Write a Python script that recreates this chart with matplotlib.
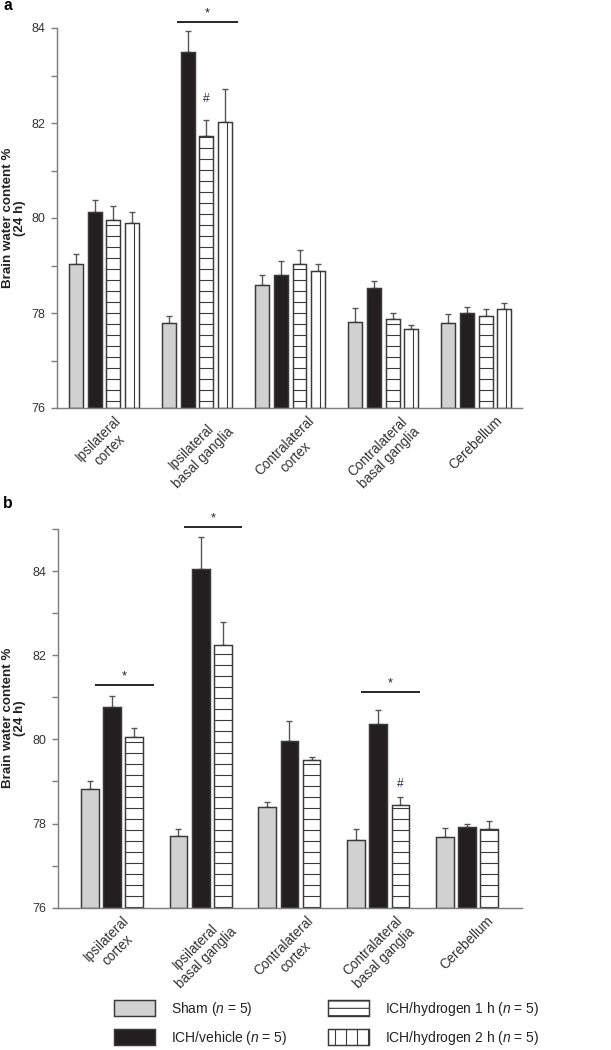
import matplotlib
matplotlib.use('Agg')
import matplotlib.pyplot as plt
import numpy as np
from matplotlib.patches import Patch
from matplotlib.ticker import MultipleLocator

plt.rcParams['font.family'] = ['Liberation Sans', 'DejaVu Sans']
plt.rcParams['mathtext.fontset'] = 'custom'
plt.rcParams['mathtext.it'] = 'Liberation Sans:italic'
plt.rcParams['mathtext.rm'] = 'Liberation Sans'
plt.rcParams['hatch.linewidth'] = 0.6
plt.rcParams['hatch.color'] = '#3a3a3a'

# ---------------- data ----------------
regions = ['Ipsilateral\ncortex', 'Ipsilateral\nbasal ganglia', 'Contralateral\ncortex',
           'Contralateral\nbasal ganglia', 'Cerebellum']
legend_labels = [r'Sham ($\mathit{n}$ = 5)', r'ICH/vehicle ($\mathit{n}$ = 5)',
                 r'ICH/hydrogen 1 h ($\mathit{n}$ = 5)', r'ICH/hydrogen 2 h ($\mathit{n}$ = 5)']

# panel a (24 h)
a_sham = [79.03, 77.80, 78.59, 77.82, 77.78]
a_sham_err = [0.22, 0.14, 0.22, 0.28, 0.19]
a_vehicle = [80.13, 83.49, 78.81, 78.53, 78.01]
a_vehicle_err = [0.25, 0.44, 0.29, 0.14, 0.11]
a_h1 = [79.95, 81.73, 79.04, 77.87, 77.94]
a_h1_err = [0.31, 0.33, 0.28, 0.14, 0.14]
a_h2 = [79.89, 82.03, 78.88, 77.66, 78.08]
a_h2_err = [0.24, 0.68, 0.16, 0.09, 0.13]
a_sig = [(1, 84.12)]          # (region index, line level)
a_hash = [(1, 82.50)]         # (region index, level) over hydrogen 1 h bar

# panel b
b_sham = [78.83, 77.70, 78.40, 77.62, 77.69]
b_sham_err = [0.17, 0.16, 0.12, 0.24, 0.21]
b_vehicle = [80.78, 84.04, 79.97, 80.37, 77.92]
b_vehicle_err = [0.24, 0.77, 0.46, 0.33, 0.08]
b_h1 = [80.05, 82.25, 79.51, 78.43, 77.88]
b_h1_err = [0.23, 0.54, 0.08, 0.19, 0.17]
b_sig = [(0, 81.29), (1, 85.05), (3, 81.12)]
b_hash = [(3, 78.95)]

# ---------------- style ----------------
DPI = 132
W, H = 611, 1050
EDGE = '#3a3a3a'
styles = [dict(facecolor='#d1d1d1', hatch=None),
          dict(facecolor='#231f20', hatch=None),
          dict(facecolor='white', hatch='--'),
          dict(facecolor='white', hatch=None)]
SPINE = '#808080'

fig = plt.figure(figsize=(W / DPI, H / DPI), dpi=DPI)


def panel(rect, series, errs, width, step, ylim, xlim, sig, hashes, sig_off):
    ax = fig.add_axes(rect)
    x = np.arange(len(regions))
    n = len(series)
    for i, (vals, e) in enumerate(zip(series, errs)):
        off = (i - (n - 1) / 2) * step
        st = styles[i]
        bars = ax.bar(x + off, np.array(vals) - ylim[0], width, bottom=ylim[0],
                      color=st['facecolor'], edgecolor=EDGE, linewidth=0.8,
                      hatch=st['hatch'], zorder=2)
        ax.errorbar(x + off, vals, yerr=[np.zeros(len(vals)), e], fmt='none',
                    ecolor='#555555', elinewidth=0.75, capsize=1.9, capthick=0.75,
                    zorder=1.5)
        if i == 3:
            for b in bars:
                xx = b.get_x() + 0.62 * b.get_width()
                ax.plot([xx, xx], [b.get_y(), b.get_y() + b.get_height()],
                        color=EDGE, lw=0.6, zorder=3)
    for gi, lvl in sig:
        cx = gi + sig_off
        half = 0.33
        ax.plot([cx - half, cx + half], [lvl, lvl], color='black', lw=0.9,
                clip_on=False, solid_capstyle='butt')
        ax.annotate('*', xy=(cx, lvl), xytext=(0, 3.2), textcoords='offset points',
                    ha='center', va='baseline', fontsize=7, color='#222222',
                    annotation_clip=False)
    for gi, lvl in hashes:
        off = (2 - (n - 1) / 2) * step
        ax.text(gi + off, lvl, '#', ha='center', va='center', fontsize=6.5,
                color='#2a2f4a')
    ax.set_xlim(*xlim)
    ax.set_ylim(*ylim)
    for s in ['top', 'right']:
        ax.spines[s].set_visible(False)
    for s in ['left', 'bottom']:
        ax.spines[s].set_color(SPINE)
        ax.spines[s].set_linewidth(0.8)
    ax.yaxis.set_major_locator(MultipleLocator(2))
    ax.yaxis.set_minor_locator(MultipleLocator(1))
    ax.tick_params(axis='y', which='both', length=3.3, width=0.8, color=SPINE,
                   labelsize=6.8, labelcolor='#333333', pad=3.3)
    ax.set_xticks(x)
    ax.set_xticklabels(regions, rotation=45, ha='center', va='top',
                       fontsize=7.4, color='#333333', multialignment='center')
    ax.tick_params(axis='x', length=0, pad=3)
    return ax


# panel a
ax_a = panel([57 / W, 1 - 408 / H, 465 / W, 380 / H],
             [a_sham, a_vehicle, a_h1, a_h2],
             [a_sham_err, a_vehicle_err, a_h1_err, a_h2_err],
             width=0.15, step=0.2, ylim=(76, 84), xlim=(-0.505, 4.49),
             sig=a_sig, hashes=a_hash, sig_off=0.11)

# panel b
ax_b = panel([58 / W, 1 - 907.7 / H, 464 / W, 378.7 / H],
             [b_sham, b_vehicle, b_h1],
             [b_sham_err, b_vehicle_err, b_h1_err],
             width=0.2, step=0.25, ylim=(76, 85), xlim=(-0.607, 4.62),
             sig=b_sig, hashes=b_hash, sig_off=0.14)

# y labels
for ax, yc in [(ax_a, 1 - 218 / H), (ax_b, 1 - 718 / H)]:
    fig.text(14 / W, yc, 'Brain water content %\n(24 h)', rotation=90,
             ha='center', va='center', fontsize=7.3, fontweight='bold',
             color='#222222', linespacing=1.05, multialignment='center')

# panel letters
fig.text(3 / W, 1 - 6 / H, 'a', fontsize=8.5, fontweight='bold', va='center', ha='left')
fig.text(3 / W, 1 - 503 / H, 'b', fontsize=8.5, fontweight='bold', va='center', ha='left')

# legend
handles = [Patch(facecolor='#d1d1d1', edgecolor=EDGE, linewidth=0.8),
           Patch(facecolor='#231f20', edgecolor=EDGE, linewidth=0.8),
           Patch(facecolor='white', edgecolor=EDGE, linewidth=0.8, hatch='---'),
           Patch(facecolor='white', edgecolor=EDGE, linewidth=0.8, hatch='||')]
fig.legend(handles, legend_labels, loc='upper left',
           bbox_to_anchor=(114 / W, 1 - 1000 / H), ncol=2, frameon=False,
           fontsize=7.6, handlelength=2.95, handleheight=1.37, handletextpad=1.15,
           columnspacing=2.9, labelspacing=0.79, borderpad=0, borderaxespad=0,
           labelcolor='#222222')

fig.savefig('out.png', dpi=DPI)
